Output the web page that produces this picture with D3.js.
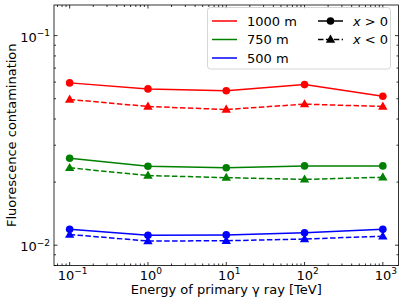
<!DOCTYPE html>
<html>
<head>
<meta charset="utf-8">
<script src="https://cdn.jsdelivr.net/npm/d3@7"></script>
<style>
  body { margin: 0; background: #fff; }
  text { font-family: "DejaVu Sans", sans-serif; fill: #000; }
</style>
</head>
<body>
<svg id="chart" width="403" height="302"></svg>
<script>
// energies of primary gamma ray [TeV]
var energies = [0.1, 1, 10, 100, 1000];

// fluorescence contamination, x > 0 (solid, circles) and x < 0 (dashed, triangles)
var pos1000 = [0.0595, 0.0557, 0.0546, 0.0584, 0.0514];
var neg1000 = [0.0496, 0.0459, 0.0444, 0.0471, 0.0459];
var pos750 = [0.0260, 0.0238, 0.0234, 0.0239, 0.0239];
var neg750 = [0.0234, 0.0215, 0.0210, 0.0206, 0.0211];
var pos500 = [0.0119, 0.01115, 0.0112, 0.01146, 0.0119];
var neg500 = [0.01125, 0.01047, 0.0105, 0.0107, 0.01104];

var heights = ["1000 m", "750 m", "500 m"];
var colors = ["#ff0000", "#008000", "#0000ff"];
var xTicks = [0.1, 1, 10, 100, 1000];
var xTickExp = ["\u22121", "0", "1", "2", "3"];
var yTicks = [0.01, 0.1];
var yTickExp = ["\u22122", "\u22121"];

var series = [
    {h: 0, side: "pos", v: pos1000}, {h: 0, side: "neg", v: neg1000},
    {h: 1, side: "pos", v: pos750}, {h: 1, side: "neg", v: neg750},
    {h: 2, side: "pos", v: pos500}, {h: 2, side: "neg", v: neg500}
];

// set the dimensions and margins of the graph
var margin = {top: 5, right: 4.5, bottom: 36.5, left: 54},
    width = 403 - margin.left - margin.right,
    height = 302 - margin.top - margin.bottom;

var svg = d3.select("#chart")
    .append("g")
    .attr("transform", "translate(" + margin.left + "," + margin.top + ")");

var x = d3.scaleLog().domain([Math.pow(10, -1.2), Math.pow(10, 3.2)]).range([0, width]);
var y = d3.scaleLog().domain([0.008, 0.14]).range([height, 0]);

// minor ticks for log axes
function minors(lo, hi) {
    var out = [];
    for (var e = -4; e <= 4; e++) {
        for (var m = 2; m <= 9; m++) {
            var v = m * Math.pow(10, e);
            if (v >= lo && v <= hi) out.push(v);
        }
    }
    return out;
}
var xMinor = minors(x.domain()[0], x.domain()[1]);
var yMinor = minors(y.domain()[0], y.domain()[1]);

// ticks, inward on all four sides
var ticks = svg.append("g").attr("stroke", "#000").attr("stroke-width", 0.8);
function tickSet(vals, len) {
    vals.forEach(function (v) {
        var px = x(v);
        ticks.append("line").attr("x1", px).attr("x2", px).attr("y1", height).attr("y2", height - len);
        ticks.append("line").attr("x1", px).attr("x2", px).attr("y1", 0).attr("y2", len);
    });
}
function tickSetY(vals, len) {
    vals.forEach(function (v) {
        var py = y(v);
        ticks.append("line").attr("y1", py).attr("y2", py).attr("x1", 0).attr("x2", len);
        ticks.append("line").attr("y1", py).attr("y2", py).attr("x1", width).attr("x2", width - len);
    });
}
tickSet(xTicks, 3.5);
tickSet(xMinor, 2);
tickSetY(yTicks, 3.5);
tickSetY(yMinor, 2);

// tick labels
xTicks.forEach(function (v, i) {
    var t = svg.append("text")
        .attr("x", x(v) + 3)
        .attr("y", height + 14)
        .attr("text-anchor", "middle")
        .style("font-size", "13px");
    t.append("tspan").text("10");
    t.append("tspan").attr("dy", -5.5).style("font-size", "9px").text(xTickExp[i]);
});
yTicks.forEach(function (v, i) {
    var t = svg.append("text")
        .attr("x", -4)
        .attr("y", y(v) + 6)
        .attr("text-anchor", "end")
        .style("font-size", "13px");
    t.append("tspan").text("10");
    t.append("tspan").attr("dy", -5.5).style("font-size", "9px").text(yTickExp[i]);
});

// axis labels
svg.append("text")
    .attr("x", width / 2)
    .attr("y", height + 28.5)
    .attr("text-anchor", "middle")
    .style("font-size", "13px")
    .text("Energy of primary \u03b3 ray [TeV]");

svg.append("text")
    .attr("transform", "translate(" + (-38.5) + "," + (height / 2) + ") rotate(-90)")
    .attr("text-anchor", "middle")
    .style("font-size", "13px")
    .text("Fluorescence contamination");

// lines and markers
var line = d3.line()
    .x(function (d) { return x(d[0]); })
    .y(function (d) { return y(d[1]); });

var tri = d3.symbol().type(d3.symbolTriangle).size(38);

series.forEach(function (s) {
    var pts = energies.map(function (e, i) { return [e, s.v[i]]; });
    var col = colors[s.h];
    svg.append("path")
        .datum(pts)
        .attr("fill", "none")
        .attr("stroke", col)
        .attr("stroke-width", 1.5)
        .style("stroke-dasharray", s.side === "neg" ? "5.5,2.4" : null)
        .attr("d", line);
    if (s.side === "pos") {
        svg.selectAll(null).data(pts).enter().append("circle")
            .attr("cx", function (d) { return x(d[0]); })
            .attr("cy", function (d) { return y(d[1]); })
            .attr("r", 3.8)
            .attr("fill", col);
    } else {
        svg.selectAll(null).data(pts).enter().append("path")
            .attr("d", tri)
            .attr("transform", function (d) { return "translate(" + x(d[0]) + "," + (y(d[1]) + 0.5) + ")"; })
            .attr("fill", col);
    }
});

// frame
svg.append("rect")
    .attr("width", width).attr("height", height)
    .attr("fill", "none").attr("stroke", "#000").attr("stroke-width", 0.8);

// legend
var lg = d3.select("#chart").append("g");
lg.append("rect")
    .attr("x", 207.5).attr("y", 7.5).attr("width", 183).attr("height", 61.5)
    .attr("rx", 3)
    .attr("fill", "#fff").attr("fill-opacity", 0.8)
    .attr("stroke", "#cccccc").attr("stroke-width", 0.8);

heights.forEach(function (h, i) {
    var ly = 21 + i * 18.5;
    lg.append("line")
        .attr("x1", 212).attr("x2", 237).attr("y1", ly).attr("y2", ly)
        .attr("stroke", colors[i]).attr("stroke-width", 1.5);
    lg.append("text")
        .attr("x", 247).attr("y", ly + 4.5)
        .style("font-size", "13px")
        .text(h);
});

var sideLabels = [">", "<"];
sideLabels.forEach(function (sym, i) {
    var ly = 21 + i * 18.5;
    lg.append("line")
        .attr("x1", 318).attr("x2", 343).attr("y1", ly).attr("y2", ly)
        .attr("stroke", "#000").attr("stroke-width", 1.5)
        .style("stroke-dasharray", i === 1 ? "5.5,2.4" : null);
    if (i === 0) {
        lg.append("circle").attr("cx", 330.5).attr("cy", ly).attr("r", 3.8).attr("fill", "#000");
    } else {
        lg.append("path").attr("d", tri).attr("transform", "translate(330.5," + (ly + 0.5) + ")").attr("fill", "#000");
    }
    var t = lg.append("text").attr("x", 353).attr("y", ly + 4.5).style("font-size", "13px");
    t.append("tspan").style("font-style", "italic").text("x");
    t.append("tspan").text(" " + sym + " 0");
});
</script>
</body>
</html>
